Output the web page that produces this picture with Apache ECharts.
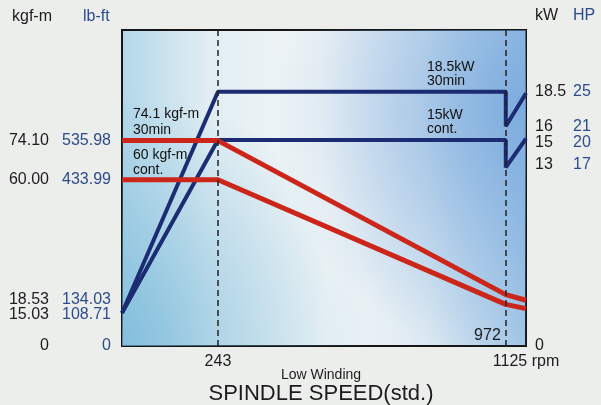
<!DOCTYPE html>
<html><head><meta charset="utf-8">
<script src="https://cdn.jsdelivr.net/npm/echarts@6/dist/echarts.min.js"></script>
<style>html,body{margin:0;padding:0;background:#eceeec;}#c{width:601px;height:405px;}</style>
</head><body><div id="c"></div>
<script>
// ---- data ----
const torque30min = [[0, 74.1], [243, 74.1], [972, 18.53], [1125, 16.5]];
const torqueCont = [[0, 60], [243, 60], [972, 15.03], [1125, 13.5]];
const power30min = [[0, 2.4], [243, 18.5], [972, 18.5], [972, 16], [1125, 18.4]];
const powerCont = [[0, 2.4], [243, 15], [972, 15], [972, 13], [1125, 15.1]];
const speedMarks = [243, 972];
const speedTicks = [243, 1125];
const speedTickLabels = ['243', '1125 rpm'];
const torqueTicks = [0, 15.03, 18.53, 60.00, 74.10];
const kgfLabels = ['0', '15.03', '18.53', '60.00', '74.10'];
const lbftLabels = ['0', '108.71', '134.03', '433.99', '535.98'];
const powerTicks = [0, 13, 15, 16, 18.5];
const kwLabels = ['0', '13', '15', '16', '18.5'];
const hpLabels = ['', '17', '20', '21', '25'];

const FONT = '"Liberation Sans", Arial, sans-serif';
const BLACK = '#1c1c1c', BLUE = '#2d4b8e', NAVY = '#1c2c72', RED = '#cc261b';
const idx = (arr, v) => arr.findIndex(a => Math.abs(a - v) < 1e-6);

const chart = echarts.init(document.getElementById('c'), null, {renderer: 'canvas'});

const leftAxis = (vals, va, lh) => ({
  type: 'value', min: 0, max: 114, position: 'left',
  axisLine: {show: false}, axisTick: {show: false}, splitLine: {show: false},
  axisLabel: {
    customValues: vals, verticalAlign: va, fontFamily: FONT, margin: 11, hideOverlap: false,
    formatter: v => { const i = idx(torqueTicks, v); return i < 0 ? '' : '{a|' + kgfLabels[i] + '}{b|' + lbftLabels[i] + '}'; },
    rich: {
      a: {width: 46, align: 'right', color: BLACK, fontSize: 16, fontFamily: FONT, lineHeight: lh},
      b: {width: 62, align: 'right', color: BLUE, fontSize: 16, fontFamily: FONT, lineHeight: lh}
    }
  }
});
const rightAxis = (vals, va, lh) => ({
  type: 'value', min: 0, max: 23, position: 'right',
  axisLine: {show: false}, axisTick: {show: false}, splitLine: {show: false},
  axisLabel: {
    customValues: vals, verticalAlign: va, margin: 9, fontFamily: FONT, hideOverlap: false,
    formatter: v => { const i = idx(powerTicks, v); return i < 0 ? '' : '{a|' + kwLabels[i] + '}' + (hpLabels[i] ? '{b|' + hpLabels[i] + '}' : ''); },
    rich: {
      a: {width: 38, align: 'left', color: BLACK, fontSize: 16, fontFamily: FONT, lineHeight: lh},
      b: {align: 'left', color: BLUE, fontSize: 16, fontFamily: FONT, lineHeight: lh}
    }
  }
});

const option = {
  backgroundColor: '#eceeec',
  animation: false,
  grid: {
    left: 122, top: 30, right: 75, bottom: 59, show: true,
    borderColor: '#151515', borderWidth: 2,
    backgroundColor: {
      type: 'linear', x: 0, y: 0, x2: 1, y2: 0,
      colorStops: [
        {offset: 0, color: '#b3d7e9'}, {offset: 0.22, color: '#e2eef3'},
        {offset: 0.5, color: '#f4f7f7'}, {offset: 0.75, color: '#dce9f2'},
        {offset: 1, color: '#a2c6e6'}
      ]
    }
  },
  xAxis: {
    type: 'value', min: 0, max: 1125,
    breaks: [{start: 972, end: 1125, gap: '5%'}],
    breakArea: {show: false},
    axisLine: {show: false}, axisTick: {show: false}, splitLine: {show: false},
    axisLabel: {
      customValues: speedTicks, margin: 8, fontSize: 16, color: BLACK, fontFamily: FONT,
      formatter: v => { const i = idx(speedTicks, v); return i < 0 ? '' : speedTickLabels[i]; }
    }
  },
  yAxis: [
    leftAxis([torqueTicks[0], torqueTicks[3], torqueTicks[4]], 'middle', 18),
    leftAxis([torqueTicks[2]], 'top', 9),
    rightAxis([powerTicks[0], powerTicks[3], powerTicks[4]], 'middle', 18),
    leftAxis([torqueTicks[1]], 'top', 21),
    rightAxis([powerTicks[2]], 'top', 6),
    rightAxis([powerTicks[1]], 'bottom', 6)
  ],
  graphic: [
    {type: 'rect', silent: true, z: 0, shape: {x: 122, y: 30, width: 404, height: 316},
     style: {fill: {type: 'radial', x: 0, y: 1, r: 0.8, colorStops: [
       {offset: 0, color: 'rgba(110,180,215,0.7)'}, {offset: 1, color: 'rgba(110,180,215,0)'}]}}},
    {type: 'rect', silent: true, z: 0, shape: {x: 122, y: 30, width: 404, height: 316},
     style: {fill: {type: 'radial', x: 1, y: 0.25, r: 0.8, colorStops: [
       {offset: 0, color: 'rgba(115,165,220,0.8)'}, {offset: 1, color: 'rgba(115,165,220,0)'}]}}},
    {type: 'text', x: 12, y: 17, style: {text: 'kgf-m', fill: BLACK, font: '16px ' + FONT, textVerticalAlign: 'middle'}},
    {type: 'text', x: 83, y: 17, style: {text: 'lb-ft', fill: BLUE, font: '16px ' + FONT, textVerticalAlign: 'middle'}},
    {type: 'text', x: 535, y: 16, style: {text: 'kW', fill: BLACK, font: '16px ' + FONT, textVerticalAlign: 'middle'}},
    {type: 'text', x: 573, y: 16, style: {text: 'HP', fill: BLUE, font: '16px ' + FONT, textVerticalAlign: 'middle'}},
    {type: 'text', z: 10, x: 133, y: 114, style: {text: '74.1 kgf-m', fill: '#111', font: '14px ' + FONT, textVerticalAlign: 'middle'}},
    {type: 'text', z: 10, x: 133, y: 130, style: {text: '30min', fill: '#111', font: '14px ' + FONT, textVerticalAlign: 'middle'}},
    {type: 'text', z: 10, x: 133, y: 155, style: {text: '60 kgf-m', fill: '#111', font: '14px ' + FONT, textVerticalAlign: 'middle'}},
    {type: 'text', z: 10, x: 133, y: 170, style: {text: 'cont.', fill: '#111', font: '14px ' + FONT, textVerticalAlign: 'middle'}},
    {type: 'text', z: 10, x: 427, y: 67, style: {text: '18.5kW', fill: '#111', font: '14px ' + FONT, textVerticalAlign: 'middle'}},
    {type: 'text', z: 10, x: 427, y: 81, style: {text: '30min', fill: '#111', font: '14px ' + FONT, textVerticalAlign: 'middle'}},
    {type: 'text', z: 10, x: 427, y: 115, style: {text: '15kW', fill: '#111', font: '14px ' + FONT, textVerticalAlign: 'middle'}},
    {type: 'text', z: 10, x: 427, y: 129, style: {text: 'cont.', fill: '#111', font: '14px ' + FONT, textVerticalAlign: 'middle'}},
    {type: 'text', x: 321, y: 375, style: {text: 'Low Winding', fill: BLACK, font: '14px ' + FONT, textAlign: 'center', textVerticalAlign: 'middle'}},
    {type: 'text', x: 321, y: 394, style: {text: 'SPINDLE SPEED(std.)', fill: BLACK, font: '22px ' + FONT, textAlign: 'center', textVerticalAlign: 'middle'}}
  ],
  series: [
    {
      type: 'line', data: [], z: 1, silent: true,
      markLine: {
        silent: true, symbol: 'none', label: {show: false},
        lineStyle: {color: '#222', width: 1.5, type: [6, 4]},
        data: speedMarks.map(v => ({xAxis: v}))
      }
    },
    {type: 'line', yAxisIndex: 2, data: power30min, symbol: 'none', z: 3, lineStyle: {color: NAVY, width: 4}},
    {type: 'line', yAxisIndex: 2, data: powerCont, symbol: 'none', z: 3, lineStyle: {color: NAVY, width: 4}},
    {type: 'line', yAxisIndex: 0, data: torque30min, symbol: 'none', z: 4, lineStyle: {color: RED, width: 5}},
    {type: 'line', yAxisIndex: 0, data: torqueCont, symbol: 'none', z: 4, lineStyle: {color: RED, width: 5}},
    {
      type: 'scatter', yAxisIndex: 0, data: [[speedMarks[1], 0]], symbolSize: 0, z: 5, silent: true,
      itemStyle: {opacity: 1},
      label: {show: true, formatter: String(speedMarks[1]), position: 'left', distance: 5, offset: [0, -10], fontSize: 16, color: BLACK, fontFamily: FONT}
    }
  ]
};
chart.setOption(option);
</script></body></html>
